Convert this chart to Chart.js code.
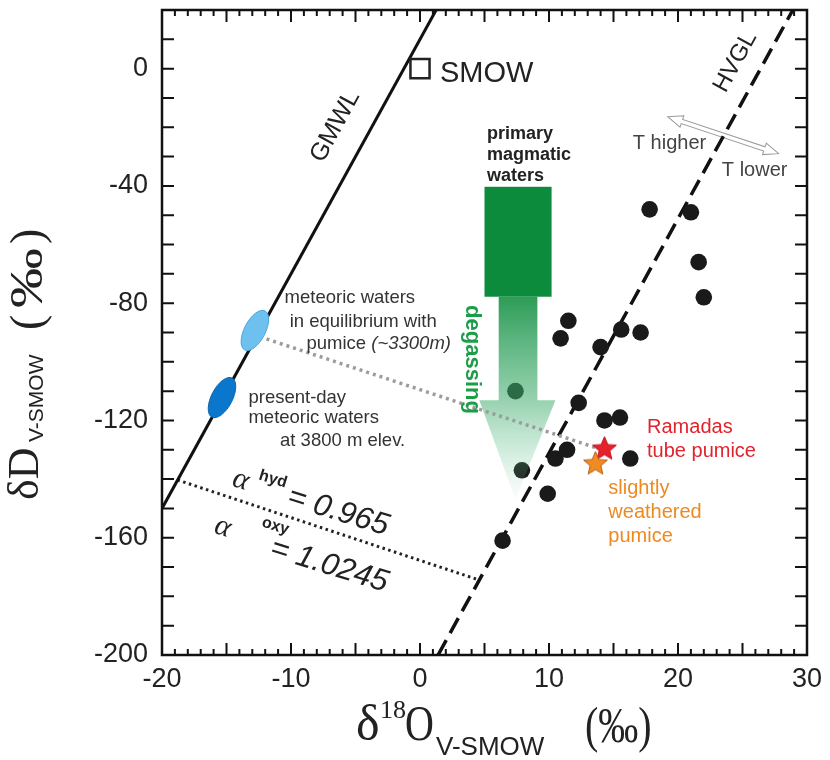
<!DOCTYPE html>
<html>
<head>
<meta charset="utf-8">
<script src="https://cdn.jsdelivr.net/npm/chart.js"></script>
<style>
  html, body { margin: 0; padding: 0; background: #fff; }
  #wrap { width: 830px; height: 760px; }
</style>
</head>
<body>
<div id="wrap"><canvas id="isotope-chart" width="830" height="760"></canvas></div>
<script>
// volcanic glass / pumice samples (d18O, dD)
const sampleO = [17.8, 21.0, 21.6, 22.0, 11.5, 10.9, 15.6, 17.1, 14.0, 7.4, 12.3, 14.3, 15.5, 11.4, 10.5, 16.3, 7.9, 9.9, 6.4];
const sampleD = [-48, -49, -66, -78, -86, -92, -89, -90, -95, -110, -114, -120, -119, -130, -133, -133, -137, -145, -161];

const ramadasO = [14.3];
const ramadasD = [-129.4];
const weatheredO = [13.6];
const weatheredD = [-134.5];
const smowO = [0];
const smowD = [0];

// reference lines
const gmwlO = [-20, 1.25];
const gmwlD = [-150, 20];
const hvglO = [1.4, 28.9];
const hvglD = [-200, 20];
const fractO = [-18.8, 4.5];
const fractD = [-140.3, -174.3];
const mixO = [-11.9, 13.7];
const mixD = [-92.2, -129.4];

// meteoric water fields: [in equilibrium with pumice, present-day]
const meteoricO = [-12.8, -15.35];
const meteoricD = [-89.3, -112.2];

// primary magmatic waters box and degassing arrow
const magmaO = [5.0, 10.2];
const magmaD = [-40.3, -77.8];
const shaftO = [6.1, 9.1];
const headO = [4.6, 10.5];
const arrowD = [-77.8, -113.1, -147];
const tipO = 7.4;

// T higher / T lower double arrow
const tempO = [19.2, 27.8];
const tempD = [-16.4, -29.0];

const xTicks = [-20, -10, 0, 10, 20, 30];
const yTicks = [-200, -160, -120, -80, -40, 0];

const SANS = '"Liberation Sans", Arial, sans-serif';
const SERIF = '"Liberation Serif", "Times New Roman", serif';

function pts(xs, ys) {
  return xs.map((x, i) => ({ x: x, y: ys[i] }));
}

function starImage(fill, stroke, r) {
  const c = document.createElement('canvas');
  const s = Math.ceil(r * 2 + 4);
  c.width = c.height = s;
  const g = c.getContext('2d');
  g.beginPath();
  for (let i = 0; i < 10; i++) {
    const rr = i % 2 ? r * 0.45 : r;
    const a = -Math.PI / 2 + i * Math.PI / 5;
    g.lineTo(s / 2 + rr * Math.cos(a), s / 2 + rr * Math.sin(a) + 1);
  }
  g.closePath();
  g.fillStyle = fill;
  g.fill();
  g.strokeStyle = stroke;
  g.lineWidth = 1;
  g.stroke();
  return c;
}

function px(chart, v) { return chart.scales.x.getPixelForValue(v); }
function py(chart, v) { return chart.scales.y.getPixelForValue(v); }

function label(ctx, chart, str, xv, yv, font, color, rot, align) {
  ctx.save();
  ctx.translate(px(chart, xv), py(chart, yv));
  if (rot) ctx.rotate(rot);
  ctx.font = font;
  ctx.fillStyle = color;
  ctx.textAlign = align || 'left';
  ctx.textBaseline = 'alphabetic';
  ctx.fillText(str, 0, 0);
  ctx.restore();
}

// frame and inward ticks
const framePlugin = {
  id: 'frame',
  afterDraw(chart) {
    const ctx = chart.ctx;
    const a = chart.chartArea;
    ctx.save();
    ctx.strokeStyle = '#111';
    ctx.lineWidth = 2.5;
    ctx.strokeRect(a.left, a.top, a.right - a.left, a.bottom - a.top);
    ctx.lineWidth = 2;
    ctx.beginPath();
    for (let v = -20; v <= 30; v++) {
      const x = px(chart, v);
      const len = v % 5 === 0 ? 12 : 6;
      ctx.moveTo(x, a.bottom); ctx.lineTo(x, a.bottom - len);
      ctx.moveTo(x, a.top); ctx.lineTo(x, a.top + len);
    }
    for (let v = -200; v <= 20; v += 10) {
      const y = py(chart, v);
      ctx.moveTo(a.left, y); ctx.lineTo(a.left + 12, y);
      ctx.moveTo(a.right, y); ctx.lineTo(a.right - 12, y);
    }
    ctx.stroke();
    ctx.restore();
  }
};

// magmatic box + degassing arrow, drawn right after the sample dots
const arrowPlugin = {
  id: 'degas',
  afterDatasetDraw(chart, args) {
    if (args.index !== 3) return;
    const ctx = chart.ctx;
    ctx.save();
    ctx.fillStyle = '#0c8b3c';
    const bx = px(chart, magmaO[0]), by = py(chart, magmaD[0]);
    ctx.fillRect(bx, by, px(chart, magmaO[1]) - bx, py(chart, magmaD[1]) - by);

    const yTop = py(chart, arrowD[0]), yBase = py(chart, arrowD[1]), yTip = py(chart, arrowD[2]);
    const grad = ctx.createLinearGradient(0, yTop, 0, yTip);
    grad.addColorStop(0, 'rgba(22,145,68,0.9)');
    grad.addColorStop(0.5, 'rgba(60,170,105,0.55)');
    grad.addColorStop(1, 'rgba(120,205,160,0.03)');
    ctx.fillStyle = grad;
    ctx.beginPath();
    ctx.moveTo(px(chart, shaftO[0]), yTop);
    ctx.lineTo(px(chart, shaftO[1]), yTop);
    ctx.lineTo(px(chart, shaftO[1]), yBase);
    ctx.lineTo(px(chart, headO[1]), yBase);
    ctx.lineTo(px(chart, tipO), yTip);
    ctx.lineTo(px(chart, headO[0]), yBase);
    ctx.lineTo(px(chart, shaftO[0]), yBase);
    ctx.closePath();
    ctx.fill();
    ctx.restore();
  }
};

// hollow double arrow for T higher / T lower
const tempArrowPlugin = {
  id: 'tempArrow',
  beforeDatasetsDraw(chart) {
    const ctx = chart.ctx;
    const x1 = px(chart, tempO[0]), y1 = py(chart, tempD[0]);
    const x2 = px(chart, tempO[1]), y2 = py(chart, tempD[1]);
    const L = Math.hypot(x2 - x1, y2 - y1);
    const hw = 2.2, hl = 15, hh = 6;
    ctx.save();
    ctx.translate(x1, y1);
    ctx.rotate(Math.atan2(y2 - y1, x2 - x1));
    ctx.beginPath();
    ctx.moveTo(0, 0);
    ctx.lineTo(hl, -hh);
    ctx.lineTo(hl, -hw);
    ctx.lineTo(L - hl, -hw);
    ctx.lineTo(L - hl, -hh);
    ctx.lineTo(L, 0);
    ctx.lineTo(L - hl, hh);
    ctx.lineTo(L - hl, hw);
    ctx.lineTo(hl, hw);
    ctx.lineTo(hl, hh);
    ctx.closePath();
    ctx.fillStyle = '#fff';
    ctx.fill();
    ctx.strokeStyle = '#9a9a9a';
    ctx.lineWidth = 1;
    ctx.stroke();
    ctx.restore();
  }
};

// meteoric water ellipses and all annotation text
const notesPlugin = {
  id: 'notes',
  afterDatasetsDraw(chart) {
    const ctx = chart.ctx;
    const fills = ['#6ec1ee', '#0a77cc'];
    const edges = ['#4aa6dd', '#0a66b0'];
    ctx.save();
    meteoricO.forEach((o, i) => {
      ctx.beginPath();
      ctx.ellipse(px(chart, o), py(chart, meteoricD[i]), 10.5, 22, 0.48, 0, Math.PI * 2);
      ctx.fillStyle = fills[i];
      ctx.fill();
      ctx.strokeStyle = edges[i];
      ctx.lineWidth = 1;
      ctx.stroke();
    });
    ctx.restore();

    const rot = -1.07;
    label(ctx, chart, 'SMOW', 1.55, -4.6, '29px ' + SANS, '#222');
    label(ctx, chart, 'GMWL', -6.1, -20.8, '25px ' + SANS, '#222', rot, 'center');
    label(ctx, chart, 'HVGL', 24.9, 1.2, '24px ' + SANS, '#222', rot, 'center');
    label(ctx, chart, 'T higher', 16.5, -27.3, '20px ' + SANS, '#444');
    label(ctx, chart, 'T lower', 23.4, -36.5, '20px ' + SANS, '#444');

    const bold = 'bold 18px ' + SANS;
    label(ctx, chart, 'primary', 5.2, -23.9, bold, '#222');
    label(ctx, chart, 'magmatic', 5.2, -31.1, bold, '#222');
    label(ctx, chart, 'waters', 5.2, -38.3, bold, '#222');
    label(ctx, chart, 'degassing', 3.6, -99.2, 'bold 22px ' + SANS, '#1c9e48', Math.PI / 2, 'center');

    const f = '18.5px ' + SANS;
    label(ctx, chart, 'meteoric waters', -10.5, -80.1, f, '#333');
    label(ctx, chart, 'in equilibrium with', -10.1, -88.0, f, '#333');
    label(ctx, chart, 'pumice', -8.8, -95.5, f, '#333');
    ctx.save();
    ctx.font = f;
    const pw = ctx.measureText('pumice ').width;
    ctx.restore();
    ctx.save();
    ctx.font = 'italic 18.5px ' + SANS;
    ctx.fillStyle = '#333';
    ctx.fillText('(~3300m)', px(chart, -8.8) + pw, py(chart, -95.5));
    ctx.restore();
    label(ctx, chart, 'present-day', -13.3, -113.9, f, '#333');
    label(ctx, chart, 'meteoric waters', -13.3, -120.8, f, '#333');
    label(ctx, chart, 'at 3800 m elev.', -10.85, -128.6, f, '#333');

    label(ctx, chart, 'Ramadas', 17.6, -124.4, '20px ' + SANS, '#e0242c');
    label(ctx, chart, 'tube pumice', 17.6, -132.6, '20px ' + SANS, '#e0242c');
    label(ctx, chart, 'slightly', 14.6, -145.2, '20px ' + SANS, '#ec8a22');
    label(ctx, chart, 'weathered', 14.6, -153.4, '20px ' + SANS, '#ec8a22');
    label(ctx, chart, 'pumice', 14.6, -161.6, '20px ' + SANS, '#ec8a22');

    // fractionation factors, written along the dotted line
    const alphas = [['hyd', '= 0.965', -14.65, -142.2, 24, -14, 58, 2], ['oxy', '= 1.0245', -16.05, -158.2, 44, -20, 60, 6]];
    alphas.forEach(([sup, val, xo, yo, sx, sy, vx, vy]) => {
      ctx.save();
      ctx.translate(px(chart, xo), py(chart, yo));
      ctx.rotate(0.3);
      ctx.fillStyle = '#222';
      ctx.font = 'italic 30px ' + SERIF;
      ctx.fillText('\u03b1', 0, 0);
      ctx.font = 'bold 16px ' + SANS;
      ctx.fillText(sup, sx, sy);
      ctx.font = 'italic 31px ' + SANS;
      ctx.fillText(val, vx, vy);
      ctx.restore();
    });
  },
  afterDraw(chart) {
    const ctx = chart.ctx;
    ctx.save();
    ctx.fillStyle = '#222';
    ctx.textBaseline = 'alphabetic';
    // x axis title
    ctx.font = '50px ' + SERIF;
    ctx.fillText('\u03b4', 356, 740);
    ctx.font = '26px ' + SERIF;
    ctx.fillText('18', 380, 718);
    ctx.font = '50px ' + SERIF;
    ctx.save(); ctx.translate(405, 740); ctx.scale(0.8, 1); ctx.fillText('O', 0, 0); ctx.restore();
    ctx.font = '26px ' + SANS;
    ctx.fillText('V-SMOW', 436, 755);
    ctx.font = '50px ' + SERIF;
    ctx.save(); ctx.translate(585, 742); ctx.scale(0.8, 1); ctx.fillText('(\u2030)', 0, 0); ctx.restore();

    // y axis title
    ctx.save();
    ctx.translate(38, 500);
    ctx.rotate(-Math.PI / 2);
    ctx.font = '44px ' + SERIF;
    ctx.fillText('\u03b4D', 0, 0);
    ctx.font = '21px ' + SANS;
    ctx.fillText('V-SMOW', 58, 5);
    ctx.font = '46px ' + SERIF;
    ctx.fillText('(', 170, 4);
    ctx.save(); ctx.translate(192, 4); ctx.scale(1.3, 1); ctx.fillText('\u2030', 0, 0); ctx.restore();
    ctx.fillText(')', 256, 4);
    ctx.restore();
    ctx.restore();
  }
};

const ctx = document.getElementById('isotope-chart').getContext('2d');
new Chart(ctx, {
  type: 'scatter',
  data: {
    datasets: [
      {
        label: 'GMWL', data: pts(gmwlO, gmwlD), showLine: true, pointRadius: 0,
        borderColor: '#111', borderWidth: 3, order: 6
      },
      {
        label: 'HVGL', data: pts(hvglO, hvglD), showLine: true, pointRadius: 0,
        borderColor: '#111', borderWidth: 3.5, borderDash: [17, 8], order: 6
      },
      {
        label: 'fractionation', data: pts(fractO, fractD), showLine: true, pointRadius: 0,
        borderColor: '#222', borderWidth: 3, borderDash: [2.5, 3.5], order: 6
      },
      {
        label: 'samples', data: pts(sampleO, sampleD), pointRadius: 8.3,
        backgroundColor: '#1a1a1a', borderColor: '#1a1a1a', borderWidth: 0, order: 5
      },
      {
        label: 'mixing', data: pts(mixO, mixD), showLine: true, pointRadius: 0,
        borderColor: '#9c9c9c', borderWidth: 3.5, borderDash: [3, 4], order: 3
      },
      {
        label: 'SMOW', data: pts(smowO, smowD), pointStyle: 'rect', pointRadius: 13.5,
        backgroundColor: '#fff', borderColor: '#222', borderWidth: 2.5, order: 2
      },
      {
        label: 'Ramadas tube pumice', data: pts(ramadasO, ramadasD),
        pointStyle: starImage('#e3222b', '#c01a20', 12.5), order: 1
      },
      {
        label: 'slightly weathered pumice', data: pts(weatheredO, weatheredD),
        pointStyle: starImage('#f08a22', '#b8601a', 12.5), order: 0
      }
    ]
  },
  options: {
    responsive: false,
    animation: false,
    layout: { autoPadding: false, padding: { top: 10, right: 23, left: 0, bottom: 0 } },
    plugins: { legend: { display: false }, tooltip: { enabled: false } },
    scales: {
      x: {
        type: 'linear', min: -20, max: 30,
        grid: { display: false, drawTicks: false },
        border: { display: false },
        afterBuildTicks: s => { s.ticks = xTicks.map(v => ({ value: v })); },
        afterFit: s => { s.height = 105; s.paddingLeft = 0; s.paddingRight = 0; },
        ticks: { padding: 8, color: '#222', font: { family: 'Liberation Sans', size: 27 } }
      },
      y: {
        type: 'linear', min: -200, max: 20,
        grid: { display: false, drawTicks: false },
        border: { display: false },
        afterBuildTicks: s => { s.ticks = yTicks.map(v => ({ value: v })); },
        afterFit: s => { s.width = 162; s.paddingTop = 0; s.paddingBottom = 0; },
        ticks: { padding: 14, color: '#222', font: { family: 'Liberation Sans', size: 27 } }
      }
    }
  },
  plugins: [tempArrowPlugin, arrowPlugin, notesPlugin, framePlugin]
});
</script>
</body>
</html>
